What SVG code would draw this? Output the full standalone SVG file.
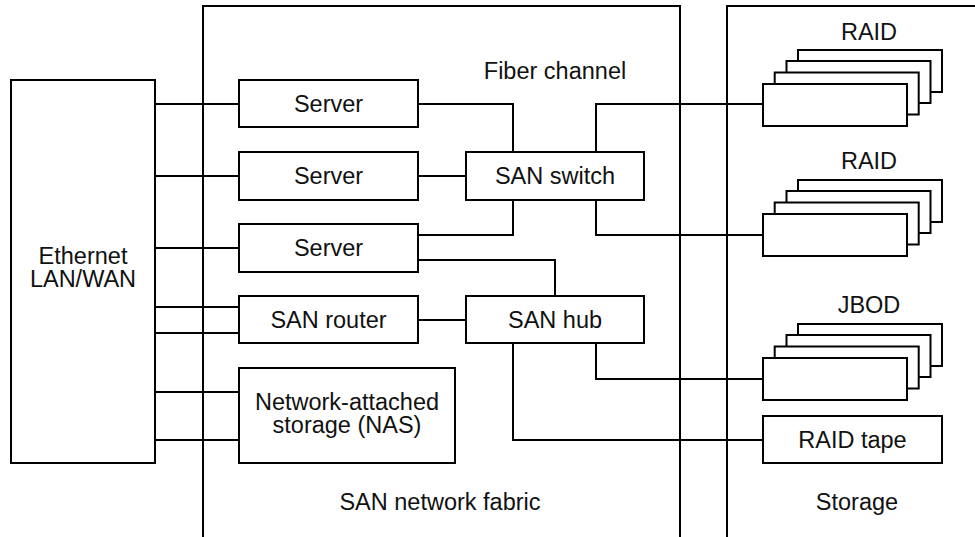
<svg xmlns="http://www.w3.org/2000/svg" width="975" height="537" viewBox="0 0 975 537">
  <style>
    .box { fill: #ffffff; stroke: #000000; stroke-width: 2; }
    .wire { fill: none; stroke: #000000; stroke-width: 2; }
    .zone { fill: none; stroke: #000000; stroke-width: 2; }
    text { font-family: "Liberation Sans", Arial, Helvetica, sans-serif; font-size: 23.5px; fill: #111111; text-anchor: middle; }
  </style>
  <defs>
    <!-- stacked disk array: three back shells and a front shell -->
    <g id="stack">
      <rect class="box" x="35" y="-34" width="144" height="42"/>
      <rect class="box" x="23.5" y="-23" width="144" height="42"/>
      <rect class="box" x="11.7" y="-11.5" width="144" height="42"/>
      <rect class="box" x="0" y="0" width="144" height="42"/>
    </g>
  </defs>

  <rect width="975" height="537" fill="#ffffff"/>

  <!-- fabric and storage zones -->
  <g id="zones">
    <path class="zone" d="M203,537 V6 H680 V537"/>
    <path class="zone" d="M727,537 V6 H976"/>
    <text x="555" y="79">Fiber channel</text>
    <text x="440" y="510">SAN network fabric</text>
    <text x="857" y="510">Storage</text>
  </g>

  <!-- connectors -->
  <g id="connectors">
    <path class="wire" d="M155,104 H239"/>
    <path class="wire" d="M155,176 H239"/>
    <path class="wire" d="M155,248 H239"/>
    <path class="wire" d="M155,307 H239"/>
    <path class="wire" d="M155,333 H239"/>
    <path class="wire" d="M155,392 H239"/>
    <path class="wire" d="M155,440 H239"/>
    <path class="wire" d="M418,104 H513 V152"/>
    <path class="wire" d="M418,176 H466"/>
    <path class="wire" d="M418,235 H513 V200"/>
    <path class="wire" d="M418,260 H555 V296"/>
    <path class="wire" d="M596,152 V104 H763"/>
    <path class="wire" d="M596,200 V235 H763"/>
    <path class="wire" d="M418,320 H466"/>
    <path class="wire" d="M596,343 V379 H763"/>
    <path class="wire" d="M513,343 V440 H763"/>
  </g>

  <g id="ethernet">
    <rect class="box" x="11" y="80" width="144" height="383"/>
    <text x="83" y="264">Ethernet</text>
    <text x="83" y="287">LAN/WAN</text>
  </g>

  <g id="server1">
    <rect class="box" x="239" y="80" width="179" height="47"/>
    <text x="328.5" y="112">Server</text>
  </g>
  <g id="server2">
    <rect class="box" x="239" y="152" width="179" height="48"/>
    <text x="328.5" y="184">Server</text>
  </g>
  <g id="server3">
    <rect class="box" x="239" y="224" width="179" height="48"/>
    <text x="328.5" y="256">Server</text>
  </g>
  <g id="san-router">
    <rect class="box" x="239" y="296" width="179" height="47"/>
    <text x="328.5" y="328">SAN router</text>
  </g>
  <g id="nas">
    <rect class="box" x="239" y="368" width="216" height="95"/>
    <text x="347" y="410">Network-attached</text>
    <text x="347" y="433">storage (NAS)</text>
  </g>
  <g id="san-switch">
    <rect class="box" x="466" y="152" width="178" height="48"/>
    <text x="555" y="184">SAN switch</text>
  </g>
  <g id="san-hub">
    <rect class="box" x="466" y="296" width="178" height="47"/>
    <text x="555" y="328">SAN hub</text>
  </g>

  <g id="raid1">
    <use href="#stack" x="763" y="84"/>
    <text x="869" y="40">RAID</text>
  </g>
  <g id="raid2">
    <use href="#stack" x="763" y="214"/>
    <text x="869" y="169">RAID</text>
  </g>
  <g id="jbod">
    <use href="#stack" x="763" y="358"/>
    <text x="869" y="313">JBOD</text>
  </g>
  <g id="raid-tape">
    <rect class="box" x="763" y="416" width="179" height="47"/>
    <text x="852.5" y="448">RAID tape</text>
  </g>
</svg>
